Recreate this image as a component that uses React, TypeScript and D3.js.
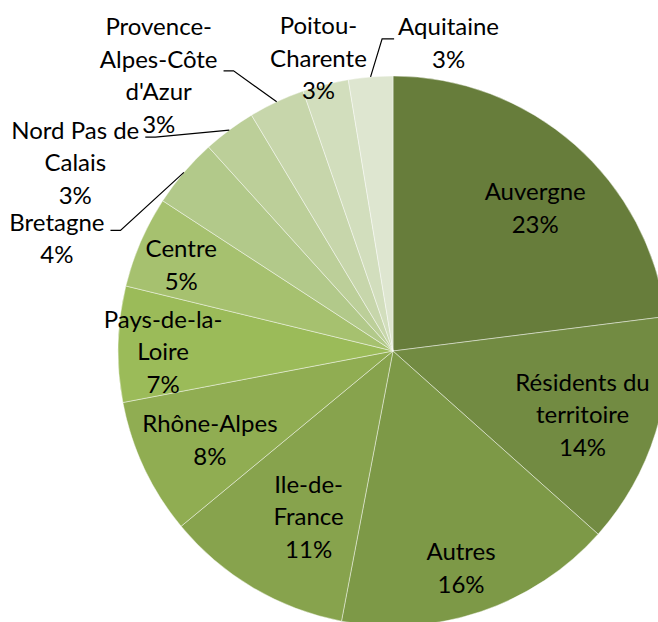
import { useEffect, useRef } from 'react';
import * as d3 from 'd3';

// origine des visiteurs (%)
const regions = [
  'Auvergne',
  'Résidents du territoire',
  'Autres',
  'Ile-de-France',
  'Rhône-Alpes',
  'Pays-de-la-Loire',
  'Centre',
  'Bretagne',
  'Nord Pas de Calais',
  "Provence-Alpes-Côte d'Azur",
  'Poitou-Charente',
  'Aquitaine',
];
const shares = [23.0, 13.6, 16.4, 11.0, 8.0, 6.8, 5.4, 4.1, 3.1, 3.3, 2.7, 2.6];
const labelLines = [
  ['Auvergne'],
  ['Résidents du', 'territoire'],
  ['Autres'],
  ['Ile-de-', 'France'],
  ['Rhône-Alpes'],
  ['Pays-de-la-', 'Loire'],
  ['Centre'],
  ['Bretagne'],
  ['Nord Pas de', 'Calais'],
  ['Provence-', 'Alpes-Côte', "d'Azur"],
  ['Poitou-', 'Charente'],
  ['Aquitaine'],
];
const colors = [
  '#677d3b', '#728b42', '#7d9947', '#87a34d', '#90ad52', '#9bbb59',
  '#a6c16f', '#b2c98a', '#bccf99', '#c7d6ab', '#d2debd', '#dee6d0',
];

// étiquettes intérieures : petit ajustement autour du centroïde
const insideNudge: Record<string, [number, number]> = {
  'Auvergne': [4, 14],
  'Résidents du territoire': [-10, 2],
  'Autres': [1, 19],
  'Ile-de-France': [22, -14],
  'Rhône-Alpes': [6, 0],
  'Pays-de-la-Loire': [-21, 6],
  'Centre': [-20, -3],
};

// étiquettes extérieures : décalage depuis le bord de la part
const outside: Record<string, { dx: number; dy: number; ly: number | null }> = {
  'Bretagne': { dx: -127, dy: 66, ly: -8 },
  'Nord Pas de Calais': { dx: -154, dy: 33, ly: -26 },
  "Provence-Alpes-Côte d'Azur": { dx: -118, dy: -26, ly: -5 },
  'Poitou-Charente': { dx: -7, dy: -26, ly: null },
  'Aquitaine': { dx: 78, dy: -34, ly: -4 },
};

export default function App() {
  const svgRef = useRef<SVGSVGElement>(null);

  useEffect(() => {
    if (!svgRef.current) return;
    const width = 658;
    const height = 622;
    const cx = 393;
    const cy = 351;
    const radius = 275;
    const lineH = 32.5;

    const svg = d3.select(svgRef.current);
    svg.selectAll('*').remove();
    svg.attr('width', width).attr('height', height);

    const g = svg.append('g').attr('transform', `translate(${cx},${cy})`);

    const data = regions.map((r, i) => ({ region: r, value: shares[i], i }));
    const total = d3.sum(shares);
    const pct = d3.format('.0%');

    const pie = d3.pie<any>().sort(null).value(d => d.value);
    const arcs = pie(data);

    const arc = d3.arc<any>().innerRadius(0).outerRadius(radius);
    const labelArc = d3.arc<any>().innerRadius(radius * 0.76).outerRadius(radius * 0.76);
    const edgeArc = d3.arc<any>().innerRadius(radius).outerRadius(radius);

    g.selectAll('path.slice')
      .data(arcs)
      .enter()
      .append('path')
      .attr('class', 'slice')
      .attr('d', arc)
      .attr('fill', d => colors[d.data.i])
      .attr('stroke', '#ffffff')
      .attr('stroke-opacity', 0.55)
      .attr('stroke-width', 0.8);

    const labels = g.selectAll('g.label')
      .data(arcs)
      .enter()
      .append('g')
      .attr('class', 'label');

    labels.each(function (d) {
      const lines = [...labelLines[d.data.i], pct(d.data.value / total)];
      const o = outside[d.data.region];
      let x: number, y: number;
      const [ex, ey] = edgeArc.centroid(d);
      if (o) {
        x = ex + o.dx;
        y = ey + o.dy;
      } else {
        const [nx, ny] = insideNudge[d.data.region] || [0, 0];
        const c = labelArc.centroid(d);
        x = c[0] + nx;
        y = c[1] + ny;
      }
      const sel = d3.select(this);
      const text = sel.append('text')
        .attr('text-anchor', 'middle')
        .attr('font-family', 'Lato, "Open Sans", sans-serif')
        .attr('font-size', 24)
        .attr('fill', '#000');
      lines.forEach((t, k) => {
        text.append('tspan')
          .attr('x', x)
          .attr('y', y + (k - (lines.length - 1) / 2) * lineH)
          .attr('dy', '0.35em')
          .text(t);
      });

      if (o && o.ly !== null) {
        let maxW = 0;
        text.selectAll<SVGTSpanElement, unknown>('tspan').each(function () {
          maxW = Math.max(maxW, this.getComputedTextLength());
        });
        const left = o.dx > 0;
        const endX = left ? x - maxW / 2 - 4 : x + maxW / 2 + 6;
        const endY = y + o.ly;
        const elbowX = left ? endX - 12 : endX + 10;
        sel.append('path')
          .attr('d', d3.line()([[ex, ey], [elbowX, endY], [endX, endY]]))
          .attr('fill', 'none')
          .attr('stroke', '#000')
          .attr('stroke-width', 1.2);
      }
    });
  }, []);

  return (
    <svg
      ref={svgRef}
      style={{ position: 'absolute', left: 0, top: 0, display: 'block' }}
    />
  );
}
